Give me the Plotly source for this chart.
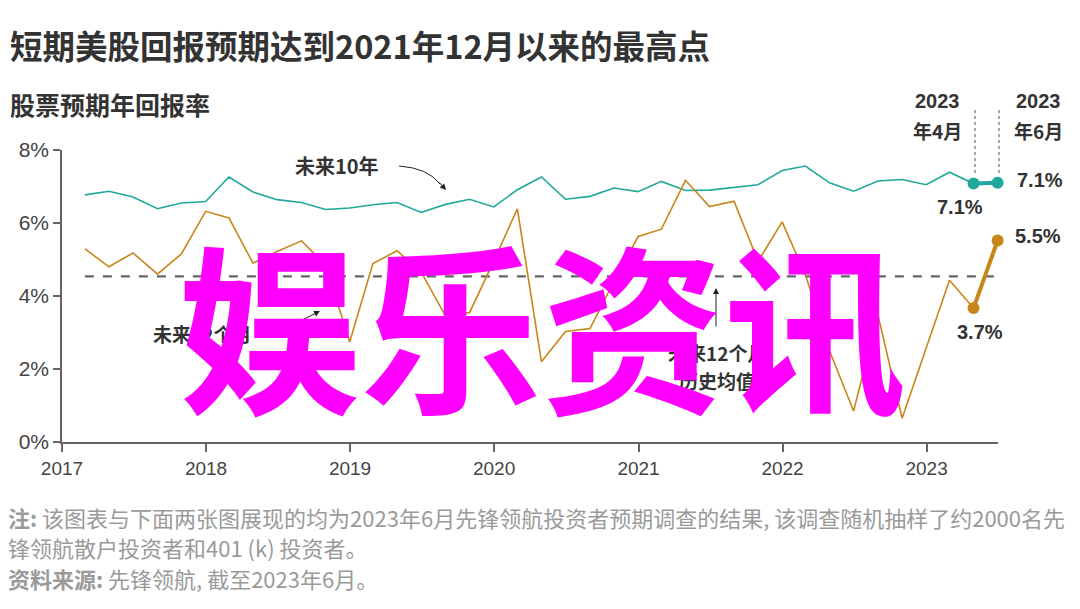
import plotly.graph_objects as go
import pandas as pd

# ---------------- data ----------------
months = [
    "2017-02", "2017-04", "2017-06", "2017-08", "2017-10", "2017-12",
    "2018-02", "2018-04", "2018-06", "2018-08", "2018-10", "2018-12",
    "2019-02", "2019-04", "2019-06", "2019-08", "2019-10", "2019-12",
    "2020-02", "2020-04", "2020-06", "2020-08", "2020-10", "2020-12",
    "2021-02", "2021-04", "2021-06", "2021-08", "2021-10", "2021-12",
    "2022-02", "2022-04", "2022-06", "2022-08", "2022-10", "2022-12",
    "2023-02", "2023-04", "2023-06",
]
ten_year = [
    6.77, 6.87, 6.71, 6.39, 6.55, 6.59,
    7.26, 6.85, 6.64, 6.56, 6.37, 6.41,
    6.50, 6.56, 6.29, 6.51, 6.65, 6.44,
    6.91, 7.26, 6.65, 6.73, 6.96, 6.86,
    7.14, 6.89, 6.90, 6.97, 7.05, 7.44,
    7.56, 7.10, 6.87, 7.15, 7.19, 7.05,
    7.39, 7.08, 7.10,
]
twelve_month = [
    5.29, 4.80, 5.18, 4.60, 5.16, 6.32,
    6.14, 4.90, 5.22, 5.51, 4.85, 2.74,
    4.89, 5.24, 4.66, 3.45, 3.55, 4.95,
    6.39, 2.20, 3.03, 3.11, 4.40, 5.63,
    5.83, 7.17, 6.45, 6.60, 4.95, 6.03,
    4.58, 2.50, 0.85, 3.47, 0.65, 2.55,
    4.43, 3.67, 5.52,
]
hist_avg = 4.54
end_labels_10y = ["7.1%", "7.1%"]
end_labels_12m = ["3.7%", "5.5%"]
end_periods = ["2023\n年4月", "2023\n年6月"]
y_ticks = [0, 2, 4, 6, 8]
y_tick_text = ["0%", "2%", "4%", "6%", "8%"]

dates = [pd.Timestamp(m) + pd.offsets.MonthEnd(0) for m in months]

# ---------------- style ----------------
TEAL = "#1fa89b"
GOLD = "#c8861a"
DARK = "#333333"
GREY = "#9a9a9a"
CJK = "Noto Sans CJK SC"
NUM = "Liberation Sans, Noto Sans CJK SC"

W, H = 1080, 609
L, R, T, B = 62, 82, 150, 167
PW, PH = W - L - R, H - T - B


def px(x):
    return (x - L) / PW


def py(y):
    return (H - B - y) / PH


fig = go.Figure()

# historical average dashed line
fig.add_trace(go.Scatter(
    x=[dates[0], dates[-1]], y=[hist_avg, hist_avg], mode="lines",
    line=dict(color="#666666", width=2.2, dash="dash"),
    hoverinfo="skip", showlegend=False))

fig.add_trace(go.Scatter(
    x=dates, y=ten_year, mode="lines",
    line=dict(color=TEAL, width=1.6), showlegend=False))
fig.add_trace(go.Scatter(
    x=dates, y=twelve_month, mode="lines",
    line=dict(color=GOLD, width=1.6), showlegend=False))

# highlighted last two points
fig.add_trace(go.Scatter(
    x=dates[-2:], y=ten_year[-2:], mode="lines+markers",
    line=dict(color=TEAL, width=4), marker=dict(size=12, color=TEAL),
    cliponaxis=False, showlegend=False))
fig.add_trace(go.Scatter(
    x=dates[-2:], y=twelve_month[-2:], mode="lines+markers",
    line=dict(color=GOLD, width=4), marker=dict(size=12, color=GOLD),
    cliponaxis=False, showlegend=False))

ann = []


def text(x, y, s, size=18, color=DARK, bold=True, xanchor="left",
         yanchor="middle", family=CJK):
    ann.append(dict(
        x=px(x), y=py(y), xref="paper", yref="paper", text=s,
        showarrow=False, xanchor=xanchor, yanchor=yanchor,
        font=dict(family=family, size=size, color=color,
                  weight="bold" if bold else "normal")))


def arrow(hx, hy, tx, ty):
    ann.append(dict(x=px(hx), y=py(hy), ax=tx - hx, ay=ty - hy,
                    xref="paper", yref="paper", text="", showarrow=True,
                    arrowhead=2, arrowsize=1.2, arrowwidth=1,
                    arrowcolor="#222"))


# titles
text(8, 44, "短期美股回报预期达到2021年12月以来的最高点", size=32.5)
text(8, 104, "股票预期年回报率", size=25)

# period headers
for xc, lab in zip([937, 1038], end_periods):
    top, bottom = lab.split("\n")
    text(xc, 101, top, size=20, xanchor="center", family=NUM)
    text(xc, 130, bottom, size=19, xanchor="center")

# end value labels
text(960, 207, end_labels_10y[0], size=20, xanchor="center", family=NUM)
text(1015, 180, end_labels_10y[1], size=20, family=NUM)
text(980, 332, end_labels_12m[0], size=20, xanchor="center", family=NUM)
text(1013, 236, end_labels_12m[1], size=20, family=NUM)

# series labels
text(337, 165, "未来10年", size=20, xanchor="center")
text(202, 333, "未来12个月", size=19, xanchor="center")
text(717, 352, "未来12个月", size=19, xanchor="center")
text(717, 380, "历史均值", size=19, xanchor="center")

# arrows
arrow(320, 311, 277, 333)
arrow(716, 288, 716, 328)
arrow(446, 190, 438, 181)

shapes = [
    dict(type="path", xref="paper", yref="paper",
         path=f"M {px(399)} {py(166)} Q {px(428)} {py(168)} {px(440)} {py(184)}",
         line=dict(color="#222", width=1)),
    dict(type="line", xref="paper", yref="paper",
         x0=px(975), x1=px(975), y0=py(110), y1=py(174),
         line=dict(color="#888", width=1.5, dash="dot")),
    dict(type="line", xref="paper", yref="paper",
         x0=px(999), x1=px(999), y0=py(110), y1=py(174),
         line=dict(color="#888", width=1.5, dash="dot")),
]

# footnotes
text(6, 517, "<b>注:</b> 该图表与下面两张图展现的均为2023年6月先锋领航投资者预期调查的结果, 该调查随机抽样了约2000名先",
     size=22, color=GREY, bold=False)
text(6, 547, "锋领航散户投资者和401 (k) 投资者。", size=22, color=GREY, bold=False)
text(6, 578, "<b>资料来源:</b> 先锋领航, 截至2023年6月。", size=22, color=GREY, bold=False)

# watermark
ann.append(dict(x=px(542), y=py(320), xref="paper", yref="paper",
                text="娱乐资讯", showarrow=False, xanchor="center",
                yanchor="middle",
                font=dict(family=CJK, size=182, color="#ff00ff", weight="bold")))

fig.update_layout(
    width=W, height=H,
    margin=dict(l=L, r=R, t=T, b=B),
    paper_bgcolor="white", plot_bgcolor="white",
    annotations=ann, shapes=shapes, showlegend=False,
    xaxis=dict(
        type="date", range=["2017-01-01", "2023-07-01"],
        dtick="M12", tick0="2017-01-01", tickformat="%Y",
        showline=True, linecolor="#666", linewidth=1.5,
        ticks="outside", ticklen=8, tickcolor="#666", tickwidth=1.5,
        showgrid=False, zeroline=False,
        tickfont=dict(family=NUM, size=19, color="#444")),
    yaxis=dict(
        range=[0, 8], tickvals=y_ticks, ticktext=y_tick_text,
        showline=True, linecolor="#666", linewidth=1.5,
        ticks="outside", ticklen=7, tickcolor="#666", tickwidth=1.5,
        showgrid=False, zeroline=False,
        tickfont=dict(family=NUM, size=21, color="#444")),
)

fig.write_html("out.html")
